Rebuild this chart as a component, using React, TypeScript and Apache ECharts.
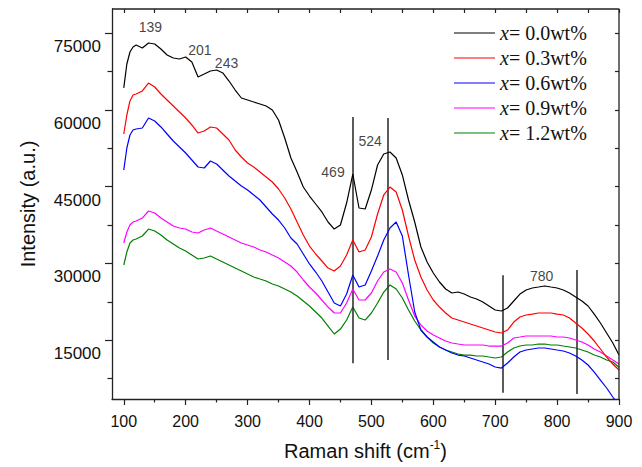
import React, { useEffect, useRef } from "react";
import * as echarts from "echarts";

// Raman shift sample positions (cm^-1)
const ramanShift = [
  100, 105, 110, 115, 120, 130, 140, 150, 160, 170, 180, 190, 200, 210, 220, 230, 240, 250, 260, 270,
  280, 290, 300, 310, 320, 330, 340, 350, 360, 370, 380, 390, 400, 410, 420, 430, 440, 450, 460, 470,
  480, 490, 500, 510, 520, 530, 540, 550, 560, 570, 580, 590, 600, 610, 620, 630, 640, 650, 660, 670,
  680, 690, 700, 710, 720, 730, 740, 750, 760, 770, 780, 790, 800, 810, 820, 830, 840, 850, 860, 870,
  880, 890, 900,
];

const intensity00 = [
  64300, 68950, 71300, 72280, 72670, 72080, 73060, 72860, 71880, 70710, 70130, 69930, 70320, 69340, 66410, 66990, 67590, 67780, 67200, 65630,
  63870, 62310, 61920, 61530, 61140, 60750, 59970, 58010, 54490, 50590, 47850, 44920, 43160, 41600, 40040, 38080, 36710, 37500, 41790, 47460,
  40820, 40620, 44330, 49220, 51370, 51760, 50590, 47270, 42380, 38080, 33200, 30270, 28120, 26360, 24990, 24210, 24400, 24010, 23430, 23040,
  22450, 21670, 20890, 20690, 21280, 22650, 24010, 24790, 25190, 25380, 25580, 25380, 25190, 24790, 24210, 23430, 22650, 21670, 20100, 18350,
  16390, 14440, 12090,
];

const intensity03 = [
  55280, 58990, 61730, 62900, 63090, 63680, 65240, 64460, 63090, 61920, 60750, 59580, 58400, 57040, 55470, 55860, 56650, 56450, 55280, 54100,
  52150, 50780, 49610, 48830, 47850, 46880, 45900, 44530, 42770, 40620, 38080, 35540, 33390, 31830, 30460, 29090, 28510, 29480, 31630, 34560,
  32220, 32610, 35150, 39650, 43360, 44920, 43940, 40430, 35350, 30660, 27340, 24790, 22840, 21470, 20300, 19320, 18930, 18540, 18150, 17760,
  17370, 16980, 16590, 16390, 16980, 18540, 19520, 19910, 20100, 20300, 20300, 20300, 20100, 19910, 19320, 18350, 17370, 16200, 14830, 13270,
  11700, 10340, 9160,
];

const intensity06 = [
  48240, 52540, 55080, 56060, 56250, 56450, 58400, 57820, 56650, 55280, 53910, 52740, 51560, 50200, 48830, 48630, 50000, 49420, 48240, 47070,
  46090, 45120, 44340, 43360, 42380, 41010, 39650, 38470, 36910, 34960, 33780, 31830, 29880, 28310, 26550, 24400, 22250, 21670, 24010, 27730,
  25380, 25770, 28510, 31440, 34560, 36910, 38080, 35350, 27730, 20500, 16980, 15610, 14630, 13660, 13070, 12480, 12090, 11900, 11510, 11120,
  10730, 10340, 9750, 9550, 10530, 11700, 12680, 13070, 13270, 13460, 13460, 13270, 13070, 12880, 12480, 11900, 11120, 10140, 8770, 7210,
  5650, 3890, 2320,
];

const intensity09 = [
  33980, 36130, 37500, 38080, 38280, 38860, 40230, 39840, 38860, 38080, 37300, 36910, 36710, 36130, 35930, 36520, 36910, 36320, 35740, 35150,
  34560, 33980, 33590, 33200, 32610, 32220, 31630, 31050, 30270, 29480, 28310, 26750, 25380, 24210, 22840, 21470, 20300, 20300, 22250, 24990,
  22840, 22840, 24210, 26550, 28310, 28900, 28310, 26160, 22840, 19710, 17960, 16780, 16000, 15420, 14830, 14440, 14240, 14050, 14050, 14050,
  14050, 13850, 13850, 13850, 14440, 15420, 15610, 15810, 15810, 15810, 15810, 15810, 15610, 15610, 15420, 15030, 14630, 14050, 13270, 12680,
  11900, 11120, 10340,
];

const intensity12 = [
  29680, 32220, 33980, 34560, 34760, 35350, 36710, 36320, 35540, 34560, 33780, 33000, 32420, 31630, 30850, 31050, 31440, 30850, 30270, 29680,
  29090, 28510, 27920, 27340, 26940, 26550, 25970, 25580, 24990, 24400, 23620, 22650, 21670, 20500, 19320, 17760, 16200, 17170, 18930, 21470,
  19320, 18930, 20300, 22250, 24400, 25770, 24990, 23230, 20890, 18740, 16980, 15610, 14440, 13660, 13070, 12680, 12290, 12090, 12090, 11900,
  11900, 11700, 11510, 11700, 12680, 13460, 13850, 14050, 14050, 14240, 14240, 14050, 14050, 13850, 13660, 13460, 13070, 12680, 12090, 11700,
  11120, 10730, 9700,
];

const seriesNames = ["x= 0.0wt%", "x= 0.3wt%", "x= 0.6wt%", "x= 0.9wt%", "x= 1.2wt%"];
const seriesColors = ["#000000", "#ff0000", "#0000ff", "#ff00ff", "#008000"];
const seriesValues = [intensity00, intensity03, intensity06, intensity09, intensity12];

// axis ticks
const xTickLabels = [100, 200, 300, 400, 500, 600, 700, 800, 900];
const xMinorTicks = [150, 250, 350, 450, 550, 650, 750, 850];
const xAllTicks = [100, 150, 200, 250, 300, 350, 400, 450, 500, 550, 600, 650, 700, 750, 800, 850, 900];
const yTickLabels = [15000, 30000, 45000, 60000, 75000];
const yMinorTicks = [7500, 22500, 37500, 52500, 67500];
const yAllTicks = [7500, 15000, 22500, 30000, 37500, 45000, 52500, 60000, 67500, 75000];

// peak annotations (data coordinates)
const peakLabels = ["139", "201", "243", "469", "524", "780"];
const peakLabelX = [143, 223, 266, 438, 498, 775];
const peakLabelY = [76150, 71700, 69150, 47850, 53900, 27500];

// vertical marker segments (data coordinates)
const markerX = [470, 527, 712, 831];
const markerTop = [58600, 58400, 27700, 28700];
const markerBottom = [10500, 11100, 4700, 4500];

const X_MIN = 81;
const X_MAX = 900;
const Y_MIN = 3500;
const Y_MAX = 79700;

// top and right edges of the plot frame (data coordinates)
const frameX = [X_MIN, X_MAX, X_MAX];
const frameY = [Y_MAX, Y_MAX, Y_MIN];

const SANS = "'Liberation Sans', Arial, Helvetica, sans-serif";
const SERIF = "'Liberation Serif', 'Times New Roman', serif";
const AX = "#222222";

export default function App() {
  const ref = useRef<HTMLDivElement>(null);

  useEffect(() => {
    if (!ref.current) return;
    const chart = echarts.init(ref.current, undefined, { renderer: "svg" });

    const axisLine = { show: true, onZero: false, lineStyle: { color: AX, width: 1.3 } };
    const tickLine = { color: AX, width: 1.2 };

    const lineSeries = seriesNames.map((name, s) => ({
      name,
      type: "line",
      xAxisIndex: 0,
      yAxisIndex: 0,
      data: ramanShift.map((x, i) => [x, seriesValues[s][i]]),
      symbol: "none",
      lineStyle: { color: seriesColors[s], width: 1.2 },
      itemStyle: { color: seriesColors[s] },
      z: 3 + (5 - s),
    }));

    const option: any = {
      animation: false,
      backgroundColor: "#ffffff",
      grid: {
        left: 112,
        right: 23,
        top: 9,
        bottom: 68,
        containLabel: false,
      },
      legend: {
        data: seriesNames,
        orient: "vertical",
        left: 454,
        top: 23,
        padding: 0,
        itemWidth: 41,
        itemHeight: 12,
        itemGap: 5,
        icon: "path://M0,5 L40,5 L40,6.2 L0,6.2 Z",
        formatter: (name: string) => `{i|x}{n|${name.slice(1)}}`,
        textStyle: {
          fontFamily: SERIF,
          fontSize: 20,
          color: "#111",
          rich: {
            i: { fontFamily: SERIF, fontSize: 20, fontStyle: "italic", color: "#111", lineHeight: 20 },
            n: { fontFamily: SERIF, fontSize: 20, color: "#111", lineHeight: 20 },
          },
        },
      },
      xAxis: [
        {
          type: "value",
          min: X_MIN,
          max: X_MAX,
          position: "bottom",
          axisLine,
          axisTick: { show: true, inside: false, length: 6, customValues: xTickLabels, lineStyle: tickLine },
          axisLabel: { customValues: xTickLabels, fontSize: 16, color: "#111", margin: 14, fontFamily: SANS },
          splitLine: { show: false },
          name: "Raman shift (cm{sup|-1})",
          nameLocation: "middle",
          nameGap: 40,
          nameTextStyle: {
            fontFamily: SANS,
            fontSize: 20,
            color: "#111",
            rich: {
              sup: { fontFamily: SANS, fontSize: 12, color: "#111", padding: [0, 0, 12, 0] },
            },
          },
        },
        {
          type: "value",
          min: X_MIN,
          max: X_MAX,
          position: "bottom",
          axisLine: { show: false },
          axisTick: { show: true, inside: false, length: 3.5, customValues: xMinorTicks, lineStyle: tickLine },
          axisLabel: { show: false },
          splitLine: { show: false },
        },
        {
          type: "value",
          min: X_MIN,
          max: X_MAX,
          position: "top",
          axisLine: { show: false },
          axisTick: { show: true, inside: true, length: 4, customValues: xAllTicks, lineStyle: tickLine },
          axisLabel: { show: false },
          splitLine: { show: false },
        },
      ],
      yAxis: [
        {
          type: "value",
          min: Y_MIN,
          max: Y_MAX,
          position: "left",
          axisLine,
          axisTick: { show: true, inside: false, length: 7, customValues: yTickLabels, lineStyle: tickLine },
          axisLabel: {
            customValues: yTickLabels,
            formatter: (v: number) => String(v),
            fontSize: 17,
            color: "#111",
            margin: 11,
            verticalAlign: "top",
            lineHeight: 27,
            fontFamily: SANS,
          },
          splitLine: { show: false },
          name: "Intensity (a.u.)",
          nameLocation: "middle",
          nameGap: 74,
          nameTextStyle: { fontFamily: SANS, fontSize: 20, color: "#111" },
        },
        {
          type: "value",
          min: Y_MIN,
          max: Y_MAX,
          position: "left",
          axisLine: { show: false },
          axisTick: { show: true, inside: false, length: 4.5, customValues: yMinorTicks, lineStyle: tickLine },
          axisLabel: { show: false },
          splitLine: { show: false },
        },
        {
          type: "value",
          min: Y_MIN,
          max: Y_MAX,
          position: "right",
          axisLine: { show: false },
          axisTick: { show: true, inside: true, length: 4, customValues: yAllTicks, lineStyle: tickLine },
          axisLabel: { show: false },
          splitLine: { show: false },
        },
      ],
      series: [
        ...lineSeries,
        {
          name: "frame",
          type: "line",
          xAxisIndex: 0,
          yAxisIndex: 0,
          data: frameX.map((x, i) => [x, frameY[i]]),
          symbol: "none",
          clip: false,
          silent: true,
          lineStyle: { color: AX, width: 1.3 },
          z: 20,
        },
        {
          name: "peaks",
          type: "scatter",
          xAxisIndex: 0,
          yAxisIndex: 0,
          symbolSize: 0,
          silent: true,
          z: 10,
          data: peakLabels.map((t, i) => ({
            value: [peakLabelX[i], peakLabelY[i]],
            label: { formatter: t },
          })),
          label: {
            show: true,
            position: "inside",
            fontFamily: SANS,
            fontSize: 14,
            color: "#111",
          },
          markLine: {
            silent: true,
            symbol: ["none", "none"],
            label: { show: false },
            lineStyle: { color: "#333333", width: 1.6, type: "solid" },
            emphasis: { disabled: true },
            data: markerX.map((x, i) => [
              { coord: [x, markerTop[i]] },
              { coord: [x, markerBottom[i]] },
            ]),
          },
        },
      ],
    };

    chart.setOption(option);
    return () => chart.dispose();
  }, []);

  return (
    <div
      ref={ref}
      style={{ position: "absolute", left: 0, top: 0, width: 642, height: 467, background: "#fff" }}
    />
  );
}
